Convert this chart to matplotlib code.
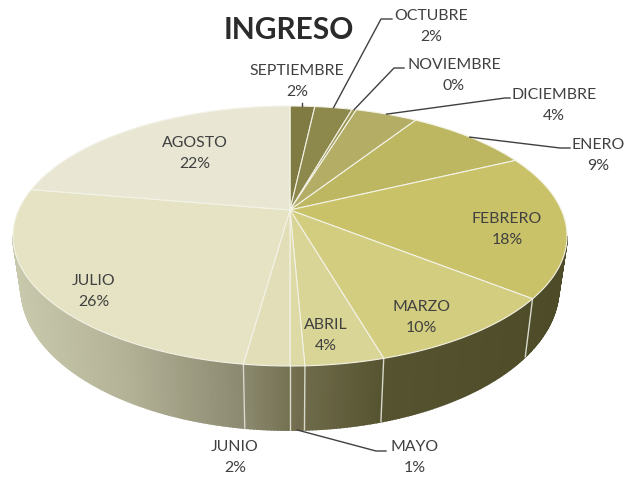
import matplotlib
matplotlib.use('Agg')
import matplotlib.pyplot as plt
import numpy as np

# datos (el valor angular es algo mas fino que la etiqueta)
meses = ['SEPTIEMBRE', 'OCTUBRE', 'NOVIEMBRE', 'DICIEMBRE', 'ENERO', 'FEBRERO',
         'MARZO', 'ABRIL', 'MAYO', 'JUNIO', 'JULIO', 'AGOSTO']
valores = [1.75, 2.65, 0.3, 4.4, 8.8, 17.8, 9.8, 3.8, 0.7, 2.2, 25.5, 22.3]
etiquetas = ['2%', '2%', '0%', '4%', '9%', '18%', '10%', '4%', '1%', '2%', '26%', '22%']
colores = ['#7f7b43', '#8d894d', '#9c9856', '#b3ad66', '#bdb761', '#c9c268',
           '#d3cd80', '#d9d596', '#dddaa6', '#e1deb8', '#e5e3c3', '#e9e7d4']

# posicion de cada etiqueta en pixeles
pos_etiquetas = [(297, 81.5), (431, 26.5), (454, 75.5), (554, 105.5), (598, 155.5), (507, 229.5),
                 (421, 317.5), (326, 335.5), (415, 457.5), (235, 457.5), (94, 291.5), (195, 153.5)]
# codo de las lineas guia: (mes, punto de codo, fin)
guias = {'OCTUBRE': [(381, 20), (392, 20)], 'NOVIEMBRE': [(394, 69), (404, 69)],
         'DICIEMBRE': [(505, 99), (510, 99)], 'ENERO': [(560, 149), (570, 149)],
         'MAYO': [(376, 452), (386, 452)]}

# perspectiva del disco
cx, cy = 290, 211
R, B, k = 271.4, 124.8, 0.2
escala_x, escala_y, desp_y = 0.97, 1.09, 31


def borde(t):
    u, v = np.sin(t), np.cos(t)
    w = 1 / (1 + k * v)
    return cx + R * u * w, cy - B * v * w


def base(t):
    x, y = borde(t)
    return cx + (x - cx) * escala_x, y * escala_y + desp_y


def color_lateral(x):
    xs = [15, 120, 240, 300, 383, 560]
    rs = [0xc8, 0xb4, 0x8c, 0x70, 0x56, 0x4e]
    gs = [0xc8, 0xb3, 0x8a, 0x6c, 0x54, 0x4c]
    bs = [0xac, 0x98, 0x70, 0x4c, 0x30, 0x28]
    return (np.interp(x, xs, rs) / 255, np.interp(x, xs, gs) / 255, np.interp(x, xs, bs) / 255)


fig = plt.figure(figsize=(6.24, 4.81), dpi=100)
ax = fig.add_axes([0, 0, 1, 1])
ax.set_xlim(0, 624)
ax.set_ylim(481, 0)
ax.axis('off')

limites = np.cumsum([0] + valores) / sum(valores) * 2 * np.pi

# pared lateral, solo la parte de delante
t_ini, t_fin = np.radians(101.5), np.radians(258.5)
ts = np.linspace(t_ini, t_fin, 260)
for a, b in zip(ts[:-1], ts[1:]):
    xa, ya = borde(a)
    xb, yb = borde(b)
    xc, yc = base(b)
    xd, yd = base(a)
    ax.fill([xa, xb, xc, xd], [ya, yb, yc, yd], color=color_lateral((xa + xb) / 2), lw=1.3, zorder=1)

for t in limites:
    if t_ini < t < t_fin:
        xa, ya = borde(t)
        xb, yb = base(t)
        ax.plot([xa, xb], [ya, yb], color='#d8d8cc', lw=1, zorder=2)

# cara superior
for i in range(len(meses)):
    t = np.linspace(limites[i], limites[i + 1], 80)
    x, y = borde(t)
    ax.fill(np.r_[cx, x], np.r_[cy, y], facecolor=colores[i], edgecolor='#f3f2e6', lw=0.8, zorder=3)

# lineas guia
for i, mes in enumerate(meses):
    if mes in guias:
        tm = (limites[i] + limites[i + 1]) / 2
        if mes == 'MAYO':
            x0, y0 = base(tm)
        else:
            x0, y0 = borde(tm)
        xs = [x0] + [p[0] for p in guias[mes]]
        ys = [y0] + [p[1] for p in guias[mes]]
        ax.plot(xs, ys, color='#404040', lw=1, zorder=4)
tm = (limites[0] + limites[1]) / 2
x0, y0 = borde(tm)
ax.plot([x0, x0], [y0, y0 - 3], color='#404040', lw=1, zorder=4)

# textos
for mes, et, (x, y) in zip(meses, etiquetas, pos_etiquetas):
    ax.text(x, y, mes + '\n' + et, ha='center', va='center', family='Lato', fontsize=11.4,
            color='#404040', linespacing=1.72, zorder=5)

ax.text(289, 30, 'INGRESO', ha='center', va='center', family='Lato', fontsize=21.5,
        fontweight='bold', color='#2b2b2b', zorder=5)

fig.savefig('out.png', dpi=100)
